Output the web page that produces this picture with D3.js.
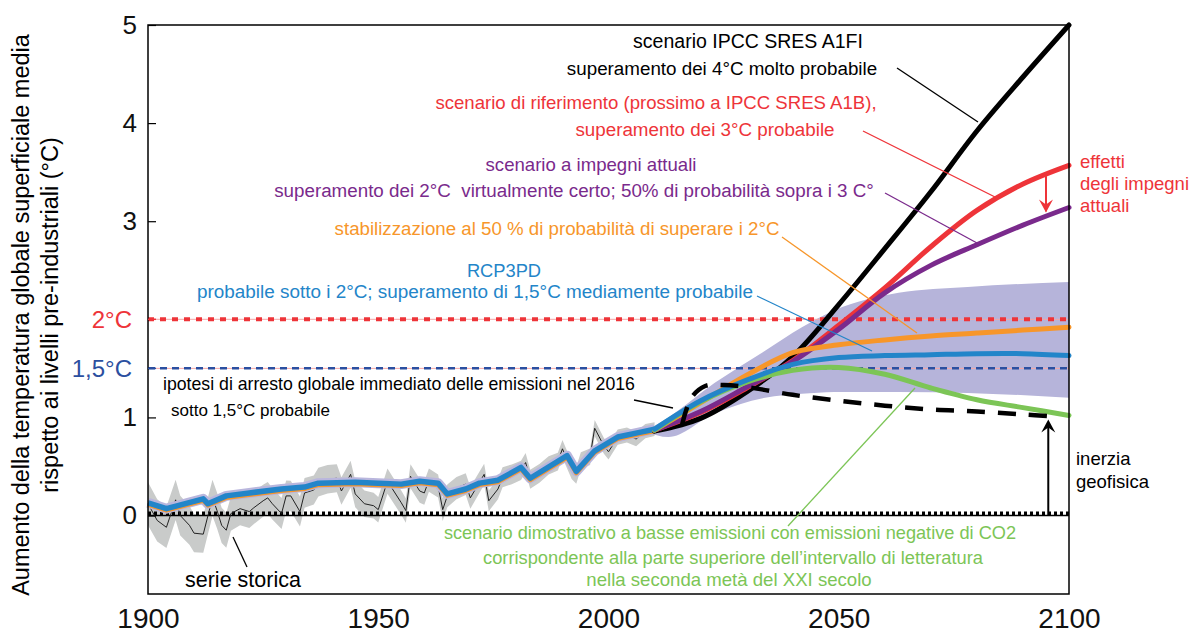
<!DOCTYPE html>
<html>
<head>
<meta charset="utf-8">
<script src="https://cdn.jsdelivr.net/npm/d3@7"></script>
<style>
  body { margin: 0; background: #fff; }
  svg { font-family: "Liberation Sans", Arial, Helvetica, sans-serif; }
</style>
</head>
<body>
<svg id="svg" width="1193" height="634"></svg>
<script>
"use strict";
var width = 1193;
var height = 634;

// historical series (annual, noisy) and smoothed trend
var histYears = [1900, 1902, 1904, 1906, 1907, 1909, 1910, 1912, 1914, 1915, 1916, 1917, 1918, 1920, 1922, 1923, 1925, 1926, 1927, 1929, 1930, 1931, 1933, 1934, 1936, 1937, 1939, 1941, 1942, 1944, 1945, 1947, 1949, 1950, 1952, 1955, 1956, 1957, 1959, 1960, 1961, 1963, 1964, 1965, 1967, 1969, 1970, 1973, 1974, 1976, 1977, 1979, 1981, 1982, 1983, 1985, 1987, 1989, 1990, 1992, 1993, 1994, 1996, 1997, 1999, 2000, 2002, 2004, 2006, 2008, 2010];
var histValues = [0.12, -0.05, -0.12, 0.16, 0.0, -0.1, -0.18, -0.19, 0.18, 0.05, -0.1, -0.15, 0.02, 0.07, 0.04, 0.08, 0.15, 0.18, 0.12, 0.02, 0.2, 0.2, 0.04, 0.23, 0.26, 0.34, 0.37, 0.38, 0.25, 0.42, 0.22, 0.12, 0.1, 0.06, 0.35, 0.13, 0.05, 0.4, 0.25, 0.23, 0.36, 0.3, 0.06, 0.2, 0.28, 0.32, 0.18, 0.42, 0.15, 0.27, 0.39, 0.42, 0.46, 0.54, 0.37, 0.43, 0.51, 0.55, 0.68, 0.46, 0.41, 0.56, 0.6, 0.89, 0.71, 0.65, 0.8, 0.82, 0.78, 0.86, 0.88];
// half width of the grey uncertainty band
var uncYears = [1900, 1920, 1950, 1980, 2010];
var uncHalf = [0.22, 0.17, 0.13, 0.1, 0.07];

var trendYears = [1900, 1904, 1912, 1913, 1917, 1922, 1929, 1934, 1937, 1945, 1950, 1955, 1959, 1963, 1965, 1969, 1972, 1976, 1981, 1983, 1991, 1993, 1997, 2002, 2007, 2010];
var trendValues = [0.13, 0.07, 0.17, 0.12, 0.2, 0.23, 0.27, 0.29, 0.33, 0.34, 0.33, 0.32, 0.35, 0.33, 0.22, 0.27, 0.33, 0.36, 0.49, 0.38, 0.61, 0.45, 0.66, 0.8, 0.85, 0.88];

// projections
var projYears = [2010, 2020, 2030, 2040, 2050, 2060, 2070, 2080, 2090, 2100];
var a1fi = [0.86, 0.99, 1.26, 1.62, 2.15, 2.72, 3.3, 3.92, 4.47, 5.0];
var reference = [0.87, 1.05, 1.3, 1.58, 1.94, 2.32, 2.74, 3.11, 3.38, 3.57];
var pledges = [0.87, 1.06, 1.31, 1.57, 1.9, 2.27, 2.55, 2.76, 2.96, 3.14];
var stabil = [0.87, 1.15, 1.43, 1.66, 1.74, 1.79, 1.83, 1.86, 1.89, 1.92];
var rcp3pd = [0.88, 1.17, 1.38, 1.54, 1.61, 1.63, 1.64, 1.65, 1.65, 1.63];
var lowEm = [0.87, 1.16, 1.36, 1.48, 1.51, 1.44, 1.3, 1.18, 1.1, 1.02];

// range of literature scenarios (lavender band)
var bandYears = [2008, 2013, 2023, 2034, 2042, 2049, 2063, 2078, 2100];
var bandLow = [0.86, 0.8, 1.04, 1.2, 1.24, 1.26, 1.26, 1.25, 1.2];
var bandHigh = [0.86, 1.0, 1.35, 1.68, 1.92, 2.09, 2.27, 2.33, 2.38];

// immediate stop of emissions in 2016
var stopYears = [2016, 2018, 2021, 2025, 2030, 2040, 2050, 2060, 2070, 2080, 2090, 2097];
var stopValues = [0.93, 1.2, 1.32, 1.33, 1.31, 1.23, 1.17, 1.12, 1.08, 1.06, 1.03, 1.01];

var yTicks = [0, 1, 3, 4, 5];
var xTicks = [1900, 1950, 2000, 2050, 2100];

var C = {
  black: "#000000", red: "#ee3439", purple: "#7a2a8c", orange: "#f7962a",
  blue: "#2385c9", green: "#7cc556", band: "#b6b4da", grey: "#c9cbca",
  navy: "#2b4fa0"
};

var pLeft = 148, pRight = 1069, pTop = 25, pBottom = 594;
var x = d3.scaleLinear().domain([1900, 2100]).range([pLeft, pRight]);
var y = d3.scaleLinear().domain([-0.8, 5]).range([pBottom, pTop]);
var unc = d3.scaleLinear().domain(uncYears).range(uncHalf);

var svg = d3.select("#svg");

function zip(xs, ys) { return xs.map(function (d, i) { return [d, ys[i]]; }); }
var line = d3.line().x(function (d) { return x(d[0]); }).y(function (d) { return y(d[1]); });
var smooth = d3.line().curve(d3.curveCatmullRom.alpha(0.5)).x(function (d) { return x(d[0]); }).y(function (d) { return y(d[1]); });

// grey band round the annual series
var hist = zip(histYears, histValues);
svg.append("path")
  .attr("d", d3.area()
    .x(function (d) { return x(d[0]); })
    .y0(function (d) { return y(d[1] - unc(d[0])); })
    .y1(function (d) { return y(d[1] + unc(d[0])); })(hist))
  .attr("fill", C.grey);

// lavender band of projections
var band = bandYears.map(function (d, i) { return [d, bandLow[i], bandHigh[i]]; });
svg.append("path")
  .attr("d", d3.area().curve(d3.curveMonotoneX)
    .x(function (d) { return x(d[0]); })
    .y0(function (d) { return y(d[1]); })
    .y1(function (d) { return y(d[2]); })(band))
  .attr("fill", C.band);

// reference levels
svg.append("line").attr("x1", pLeft).attr("x2", pRight).attr("y1", y(2)).attr("y2", y(2))
  .attr("stroke", "#f6a6a6").attr("stroke-width", 1);
svg.append("line").attr("x1", pLeft).attr("x2", pRight).attr("y1", y(2)).attr("y2", y(2))
  .attr("stroke", C.red).attr("stroke-width", 4).attr("stroke-dasharray", "6,6");
svg.append("line").attr("x1", pLeft).attr("x2", pRight).attr("y1", y(1.5)).attr("y2", y(1.5))
  .attr("stroke", "#f6a6a6").attr("stroke-width", 1);
svg.append("line").attr("x1", pLeft).attr("x2", pRight).attr("y1", y(1.5)).attr("y2", y(1.5))
  .attr("stroke", C.navy).attr("stroke-width", 2.5).attr("stroke-dasharray", "7,5");
svg.append("line").attr("x1", pLeft).attr("x2", pRight).attr("y1", y(0)).attr("y2", y(0))
  .attr("stroke", C.black).attr("stroke-width", 1.5);
svg.append("line").attr("x1", pLeft).attr("x2", pRight).attr("y1", y(0) - 2).attr("y2", y(0) - 2)
  .attr("stroke", C.black).attr("stroke-width", 4).attr("stroke-dasharray", "3,3");

// annual series
svg.append("path").attr("d", line(hist))
  .attr("fill", "none").attr("stroke", "#222").attr("stroke-width", 1);

// smoothed trend
var trend = zip(trendYears, trendValues);
svg.append("path").attr("d", line(trend))
  .attr("fill", "none").attr("stroke", "#b9b6dd").attr("stroke-width", 10).attr("stroke-linejoin", "round");
svg.append("path").attr("d", line(trend)).attr("transform", "translate(0,2)")
  .attr("fill", "none").attr("stroke", C.orange).attr("stroke-width", 4).attr("stroke-linejoin", "round");
svg.append("path").attr("d", line(trend))
  .attr("fill", "none").attr("stroke", C.blue).attr("stroke-width", 5.5).attr("stroke-linejoin", "round");

// scenarios
var scenarios = [
  { v: a1fi, c: C.black },
  { v: reference, c: C.red },
  { v: pledges, c: C.purple },
  { v: stabil, c: C.orange },
  { v: lowEm, c: C.green },
  { v: rcp3pd, c: C.blue }
];
svg.selectAll("path.scen").data(scenarios).enter().append("path")
  .attr("class", "scen")
  .attr("d", function (s) { return smooth(zip(projYears, s.v)); })
  .attr("fill", "none")
  .attr("stroke", function (s) { return s.c; })
  .attr("stroke-width", 5)
  .attr("stroke-linecap", "round");

svg.append("path").attr("d", smooth(zip(stopYears, stopValues)))
  .attr("fill", "none").attr("stroke", C.black).attr("stroke-width", 4.5)
  .attr("stroke-dasharray", "18,13");

// frame
svg.append("rect").attr("x", pLeft).attr("y", pTop).attr("width", pRight - pLeft).attr("height", pBottom - pTop)
  .attr("fill", "none").attr("stroke", "#000").attr("stroke-width", 1.5);

// axes
var yAxis = svg.append("g").attr("transform", "translate(" + pLeft + ",0)")
  .call(d3.axisLeft(y).tickValues(yTicks).tickSize(-8).tickPadding(11).tickFormat(d3.format("d")));
yAxis.select(".domain").remove();
yAxis.selectAll("text").attr("font-size", 26).attr("font-family", "Liberation Sans, Arial, sans-serif").attr("fill", "#111");
yAxis.selectAll("line").attr("stroke", "#000").attr("stroke-width", 1.2);

[{ v: 2, t: "2°C", c: C.red }, { v: 1.5, t: "1,5°C", c: C.navy }].forEach(function (r) {
  svg.append("line").attr("x1", pLeft).attr("x2", pLeft + 8).attr("y1", y(r.v)).attr("y2", y(r.v))
    .attr("stroke", r.c).attr("stroke-width", 1.5);
  svg.append("text").attr("x", pLeft - 16).attr("y", y(r.v)).attr("dy", "0.35em")
    .attr("text-anchor", "end").attr("font-size", 24).attr("fill", r.c).text(r.t);
});

var xAxis = svg.append("g").attr("transform", "translate(0," + pBottom + ")")
  .call(d3.axisBottom(x).tickValues(xTicks).tickSize(0).tickPadding(14).tickFormat(d3.format("d")));
xAxis.select(".domain").remove();
xAxis.selectAll("text").attr("font-size", 28).attr("font-family", "Liberation Sans, Arial, sans-serif").attr("fill", "#111");

// y title
var yt = svg.append("g").attr("transform", "translate(21,315) rotate(-90)");
yt.append("text").attr("text-anchor", "middle").attr("dy", "0.35em").attr("font-size", 23.5)
  .text("Aumento della temperatura globale superficiale media");
yt.append("text").attr("text-anchor", "middle").attr("y", 29).attr("dy", "0.35em").attr("font-size", 23.5)
  .text("rispetto ai livelli pre-industriali (°C)");

// leader lines
var leaders = [
  { p: [[897, 68], [978, 122]], c: C.black },
  { p: [[863, 131], [995, 197]], c: C.red },
  { p: [[885, 193], [977, 243]], c: C.purple },
  { p: [[782, 237], [917, 333]], c: C.orange },
  { p: [[757, 296], [872, 351]], c: C.blue },
  { p: [[634, 400], [673, 408]], c: C.black },
  { p: [[915, 388], [788, 526]], c: C.green },
  { p: [[233, 537], [247, 567]], c: C.black }
];
svg.selectAll("line.lead").data(leaders).enter().append("line")
  .attr("x1", function (d) { return d.p[0][0]; }).attr("y1", function (d) { return d.p[0][1]; })
  .attr("x2", function (d) { return d.p[1][0]; }).attr("y2", function (d) { return d.p[1][1]; })
  .attr("stroke", function (d) { return d.c; }).attr("stroke-width", 1.3);

// arrows
svg.append("line").attr("x1", x(2095)).attr("x2", x(2095)).attr("y1", y(3.46)).attr("y2", y(3.1))
  .attr("stroke", C.red).attr("stroke-width", 2);
svg.append("path").attr("d", "M" + (x(2095) - 7) + "," + (y(3.1) - 12) + "L" + x(2095) + "," + (y(3.1) + 1) +
  "L" + (x(2095) + 7) + "," + (y(3.1) - 12) + "L" + x(2095) + "," + (y(3.1) - 7) + "Z").attr("fill", C.red);
svg.append("line").attr("x1", x(2095.5)).attr("x2", x(2095.5)).attr("y1", y(0)).attr("y2", y(0.93))
  .attr("stroke", C.black).attr("stroke-width", 2);
svg.append("path").attr("d", "M" + (x(2095.5) - 7) + "," + (y(0.98) + 13) + "L" + x(2095.5) + "," + (y(0.98)) +
  "L" + (x(2095.5) + 7) + "," + (y(0.98) + 13) + "L" + x(2095.5) + "," + (y(0.98) + 8) + "Z").attr("fill", C.black);

// labels
var labels = [
  { t: "scenario IPCC SRES A1FI", x: 748, y: 48, c: C.black, s: 19.5 },
  { t: "superamento dei 4°C molto probabile", x: 722, y: 75, c: C.black, s: 18.8 },
  { t: "scenario di riferimento (prossimo a IPCC SRES A1B),", x: 656, y: 109, c: C.red, s: 18.6 },
  { t: "superamento dei 3°C probabile", x: 705, y: 136, c: C.red, s: 18.8 },
  { t: "scenario a impegni attuali", x: 591, y: 171, c: C.purple, s: 18.6 },
  { t: "superamento dei 2°C  virtualmente certo; 50% di probabilità sopra i 3 C°", x: 574, y: 197, c: C.purple, s: 18.8 },
  { t: "stabilizzazione al 50 % di probabilità di superare i 2°C", x: 557, y: 235, c: C.orange, s: 18.7 },
  { t: "RCP3PD", x: 504, y: 277, c: C.blue, s: 18.3 },
  { t: "probabile sotto i 2°C; superamento di 1,5°C mediamente probabile", x: 475, y: 298, c: C.blue, s: 18.9 },
  { t: "ipotesi di arresto globale immediato delle emissioni nel 2016", x: 163, y: 390, c: C.black, a: "start", s: 17.7 },
  { t: "sotto 1,5°C probabile", x: 171, y: 416, c: C.black, a: "start", s: 17 },
  { t: "scenario dimostrativo a basse emissioni con emissioni negative di CO2", x: 730, y: 539, c: C.green, s: 18.2 },
  { t: "corrispondente alla parte superiore dell’intervallo di letteratura", x: 733, y: 564, c: C.green, s: 18.3 },
  { t: "nella seconda metà del XXI secolo", x: 729, y: 586, c: C.green, s: 18.6 },
  { t: "effetti", x: 1080, y: 168, c: C.red, a: "start", s: 18.5 },
  { t: "degli impegni", x: 1080, y: 190, c: C.red, a: "start", s: 18.5 },
  { t: "attuali", x: 1080, y: 212, c: C.red, a: "start", s: 18.5 },
  { t: "inerzia", x: 1076, y: 465, c: C.black, a: "start", s: 18.5 },
  { t: "geofisica", x: 1076, y: 488, c: C.black, a: "start", s: 18.5 },
  { t: "serie storica", x: 185, y: 587, c: C.black, a: "start", s: 21.5 }
];
svg.selectAll("text.lab").data(labels).enter().append("text")
  .attr("class", "lab")
  .attr("x", function (d) { return d.x; }).attr("y", function (d) { return d.y; })
  .attr("text-anchor", function (d) { return d.a || "middle"; })
  .attr("font-size", function (d) { return d.s; }).attr("fill", function (d) { return d.c; })
  .style("white-space", "pre")
  .text(function (d) { return d.t; });
</script>
</body>
</html>
